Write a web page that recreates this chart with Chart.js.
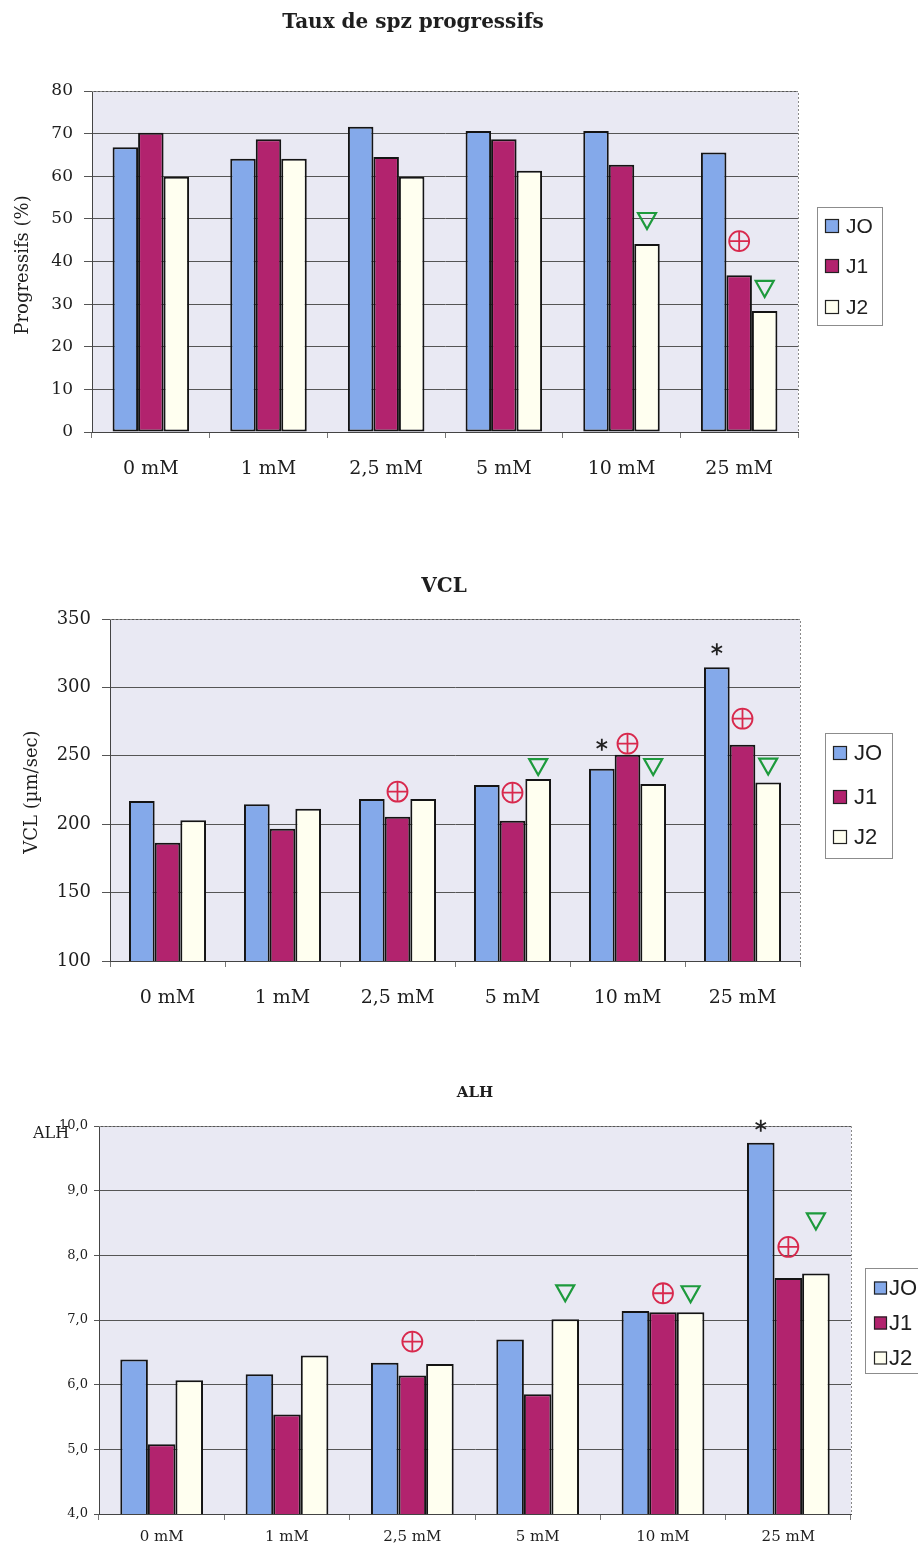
<!DOCTYPE html>
<html>
<head>
<meta charset="utf-8">
<script src="https://cdn.jsdelivr.net/npm/chart.js@4.4.1/dist/chart.umd.min.js"></script>
<style>
  html, body { margin: 0; padding: 0; background: #ffffff; }
  body { width: 918px; height: 1549px; position: relative; overflow: hidden; }
  canvas { position: absolute; left: 0; display: block; }
</style>
</head>
<body>
<canvas id="c1" width="918" height="510" style="top:0px"></canvas>
<canvas id="c2" width="918" height="520" style="top:510px"></canvas>
<canvas id="c3" width="918" height="519" style="top:1030px"></canvas>
<script>
// Concentrations and series
const categories = ['0 mM', '1 mM', '2,5 mM', '5 mM', '10 mM', '25 mM'];
const seriesNames = ['JO', 'J1', 'J2'];

// Taux de spz progressifs (%)
const progJ0 = [66.8, 64.1, 71.6, 70.6, 70.6, 65.6];
const progJ1 = [70.2, 68.7, 64.5, 68.7, 62.7, 36.8];
const progJ2 = [59.9, 64.1, 59.9, 61.3, 44.1, 28.4];
const progAxis = [0, 80, 10];

// VCL (µm/sec)
const vclJ0 = [217.0, 214.5, 218.5, 228.7, 240.6, 314.7];
const vclJ1 = [186.5, 196.7, 205.5, 202.6, 250.8, 258.1];
const vclJ2 = [202.8, 211.3, 218.5, 233.0, 229.4, 230.4];
const vclAxis = [100, 350, 50];

// ALH
const alhJ0 = [6.39, 6.16, 6.34, 6.70, 7.14, 9.74];
const alhJ1 = [5.08, 5.54, 6.14, 5.85, 7.12, 7.65];
const alhJ2 = [6.07, 6.45, 6.32, 7.01, 7.12, 7.72];
const alhAxis = [4, 10, 1];

// Significance marks: [category index, series index, symbol]
const progMarks = [[4, 2, 'tri'], [5, 1, 'plus'], [5, 2, 'tri']];
const vclMarks = [[2, 1, 'plus'], [3, 1, 'plus'], [3, 2, 'tri'], [4, 0, 'star'], [4, 1, 'plus'], [4, 2, 'tri'], [5, 0, 'star'], [5, 1, 'plus'], [5, 2, 'tri']];
const alhMarks = [[2, 1, 'plus'], [3, 2, 'tri'], [4, 1, 'plus'], [4, 2, 'tri'], [5, 0, 'star'], [5, 1, 'plus'], [5, 2, 'tri']];

// ---- styling ----
const SERIF = '"DejaVu Serif", serif';
const SANS = '"Liberation Sans", Arial, sans-serif';
const fills = ['#84a9ea', '#b2236e', '#fffff0'];
const plotBg = '#e9e9f3';
const gridCol = '#555555';
const textCol = '#1e1e1e';

// pixel gap between a bar top and its mark, in the same order as the marks
const progLift = [24, 34, 23];
const vclLift = [25, 28, 13, 24, 11, 18, 18, 26, 17];
const alhLift = [34, 27, 19, 19, 17, 31, 53];

function drawMark(ctx, sym, x, y) {
  ctx.save();
  if (sym === 'plus') {
    ctx.strokeStyle = '#d8294d';
    ctx.lineWidth = 1.8;
    ctx.beginPath(); ctx.arc(x, y, 10, 0, Math.PI * 2); ctx.stroke();
    ctx.beginPath();
    ctx.moveTo(x - 10, y); ctx.lineTo(x + 10, y);
    ctx.moveTo(x, y - 10); ctx.lineTo(x, y + 10);
    ctx.stroke();
  } else if (sym === 'tri') {
    ctx.strokeStyle = '#1d9a3c';
    ctx.lineWidth = 2.2;
    ctx.lineJoin = 'miter';
    ctx.beginPath();
    ctx.moveTo(x - 9, y - 7); ctx.lineTo(x + 9, y - 7); ctx.lineTo(x, y + 9);
    ctx.closePath(); ctx.stroke();
  } else if (sym === 'star') {
    ctx.strokeStyle = '#222';
    ctx.lineWidth = 1.8;
    ctx.beginPath();
    for (let k = 0; k < 3; k++) {
      const a = Math.PI / 2 + k * Math.PI / 3;
      ctx.moveTo(x - 6 * Math.cos(a), y - 6 * Math.sin(a));
      ctx.lineTo(x + 6 * Math.cos(a), y + 6 * Math.sin(a));
    }
    ctx.stroke();
  }
  ctx.restore();
}

// plot background, frame, titles, legend and marks
const decor = {
  id: 'decor',
  beforeDatasetsDraw(chart, args, o) {
    const a = chart.chartArea;
    const ctx = chart.ctx;
    ctx.save();
    ctx.strokeStyle = '#8a8a8a';
    ctx.lineWidth = 1;
    ctx.setLineDash([2, 2]);
    ctx.beginPath();
    ctx.moveTo(a.left, a.top + 0.5); ctx.lineTo(a.right + 0.5, a.top + 0.5); ctx.lineTo(a.right + 0.5, a.bottom);
    ctx.stroke();
    ctx.restore();
  },
  beforeDraw(chart, args, o) {
    const a = chart.chartArea;
    const ctx = chart.ctx;
    ctx.save();
    ctx.fillStyle = '#ffffff';
    ctx.fillRect(0, 0, chart.width, chart.height);
    ctx.fillStyle = plotBg;
    ctx.fillRect(a.left, a.top, a.right - a.left, a.bottom - a.top);
    ctx.restore();
  },
  afterDraw(chart, args, o) {
    const ctx = chart.ctx;
    ctx.save();
    // title
    ctx.fillStyle = textCol;
    ctx.font = o.title.font;
    ctx.textAlign = 'center';
    ctx.textBaseline = 'alphabetic';
    ctx.fillText(o.title.text, o.title.x, o.title.y);
    // value axis title
    ctx.font = o.yTitle.font;
    if (o.yTitle.rotate) {
      ctx.save();
      ctx.translate(o.yTitle.x, o.yTitle.y);
      ctx.rotate(-Math.PI / 2);
      ctx.textAlign = 'center';
      ctx.textBaseline = 'middle';
      ctx.fillText(o.yTitle.text, 0, 0);
      ctx.restore();
    } else {
      ctx.textAlign = 'left';
      ctx.fillText(o.yTitle.text, o.yTitle.x, o.yTitle.y);
    }
    // legend
    const L = o.legend;
    ctx.strokeStyle = '#8c8c8c';
    ctx.lineWidth = 1;
    ctx.setLineDash([]);
    ctx.strokeRect(L.x + 0.5, L.y + 0.5, L.w, L.h);
    ctx.font = L.font;
    ctx.textAlign = 'left';
    ctx.textBaseline = 'middle';
    chart.data.datasets.forEach((ds, i) => {
      const cy = L.y + L.rows[i];
      ctx.fillStyle = ds.backgroundColor;
      ctx.fillRect(L.sx, cy - L.sq / 2, L.sq, L.sq);
      ctx.strokeStyle = '#222';
      ctx.lineWidth = 1.2;
      ctx.strokeRect(L.sx + 0.5, cy - L.sq / 2 + 0.5, L.sq - 1, L.sq - 1);
      ctx.fillStyle = textCol;
      ctx.fillText(ds.label, L.tx, cy + 1);
    });
    // significance marks above bars
    o.marks.forEach((m, k) => {
      const bar = chart.getDatasetMeta(m[1]).data[m[0]];
      drawMark(ctx, m[2], bar.x, bar.y - o.lift[k]);
    });
    ctx.restore();
  }
};

function makeChart(id, vals, axis, cfg) {
  const ctx = document.getElementById(id);
  return new Chart(ctx, {
    type: 'bar',
    data: {
      labels: categories,
      datasets: vals.map((v, i) => ({
        label: seriesNames[i],
        data: v,
        backgroundColor: fills[i],
        borderColor: '#141414',
        borderWidth: 2,
        borderSkipped: false,
        categoryPercentage: cfg.catPct,
        barPercentage: 1.0
      }))
    },
    options: {
      responsive: false,
      animation: false,
      devicePixelRatio: 1,
      layout: { padding: cfg.padding },
      plugins: {
        legend: { display: false },
        tooltip: { enabled: false },
        decor: cfg.decor
      },
      scales: {
        x: {
          offset: true,
          grid: { offset: true, drawOnChartArea: false, color: '#777', tickLength: 6, lineWidth: 1 },
          border: { display: true, color: '#444', width: 1 },
          ticks: { color: textCol, font: { family: SERIF, size: cfg.xFont }, padding: cfg.xPad, maxRotation: 0 },
          afterFit: s => { s.height = cfg.xH; }
        },
        y: {
          min: axis[0], max: axis[1],
          ticks: {
            stepSize: axis[2],
            color: textCol,
            font: { family: SERIF, size: cfg.yFont },
            padding: cfg.yPad,
            callback: cfg.fmt
          },
          grid: { color: gridCol, lineWidth: 1, tickLength: cfg.yTick, drawTicks: true },
          border: { display: true, color: '#444', width: 1 },
          afterFit: s => { s.width = cfg.yW; }
        }
      }
    },
    plugins: [decor]
  });
}

makeChart('c1', [progJ0, progJ1, progJ2], progAxis, {
  catPct: 0.65,
  padding: { left: 12, right: 120, top: 91, bottom: 18 },
  xH: 60, yW: 80, xFont: 19, yFont: 17, xPad: 20, yPad: 11, yTick: 8,
  fmt: v => String(v),
  decor: {
    title: { text: 'Taux de spz progressifs', x: 413, y: 28, font: 'bold 20px ' + SERIF },
    yTitle: { text: 'Progressifs (%)', x: 23, y: 265, rotate: true, font: '18px ' + SERIF },
    legend: { x: 817, y: 207, w: 65, h: 118, rows: [19, 59, 100], sx: 825, sq: 14, tx: 846, font: '21px ' + SANS },
    marks: progMarks, lift: progLift
  }
});

makeChart('c2', [vclJ0, vclJ1, vclJ2], vclAxis, {
  catPct: 0.67,
  padding: { left: 15, right: 118, top: 109, bottom: 9 },
  xH: 60, yW: 95, xFont: 19, yFont: 18, xPad: 20, yPad: 11, yTick: 8,
  fmt: v => String(v),
  decor: {
    title: { text: 'VCL', x: 444, y: 82, font: 'bold 20px ' + SERIF },
    yTitle: { text: 'VCL (\u00b5m/sec)', x: 32, y: 282, rotate: true, font: '18px ' + SERIF },
    legend: { x: 825, y: 223, w: 67, h: 125, rows: [20, 64, 104], sx: 833, sq: 14, tx: 854, font: '22px ' + SANS },
    marks: vclMarks, lift: vclLift
  }
});

makeChart('c3', [alhJ0, alhJ1, alhJ2], alhAxis, {
  catPct: 0.66,
  padding: { left: 14, right: 67, top: 96, bottom: 5 },
  xH: 30, yW: 85, xFont: 15, yFont: 13, xPad: 8, yPad: 6, yTick: 5,
  fmt: v => v.toFixed(1).replace('.', ','),
  decor: {
    title: { text: 'ALH', x: 475, y: 67, font: 'bold 15px ' + SERIF },
    yTitle: { text: 'ALH', x: 33, y: 108, rotate: false, font: '16px ' + SERIF },
    legend: { x: 865, y: 238, w: 80, h: 105, rows: [20, 55, 90], sx: 874, sq: 13, tx: 889, font: '22px ' + SANS },
    marks: alhMarks, lift: alhLift
  }
});
</script>
</body>
</html>
